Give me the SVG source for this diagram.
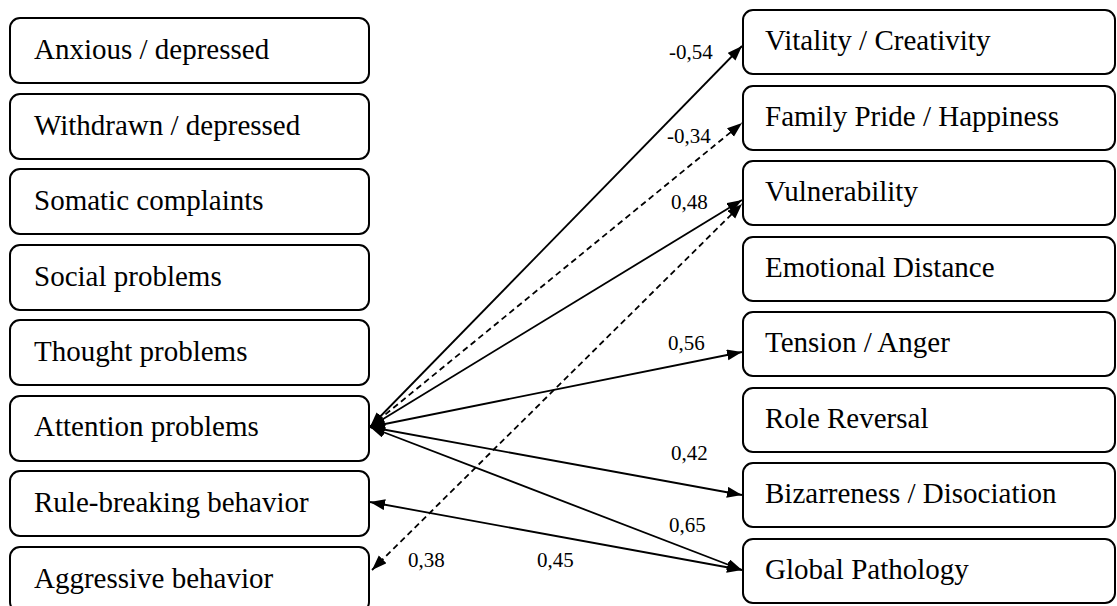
<svg xmlns="http://www.w3.org/2000/svg" width="1117" height="606" viewBox="0 0 1117 606">
<style>
.box{fill:#fff;stroke:#000;stroke-width:2}
.t{font-size:29px;fill:#000}
.lbl{font-size:21px;fill:#000}
.c{fill:none;stroke:#000;stroke-width:1.8;marker-start:url(#ah);marker-end:url(#ah)}
.d{stroke-dasharray:6 4}
</style>
<defs>
<marker id="ah" markerUnits="userSpaceOnUse" markerWidth="16" markerHeight="12" refX="15" refY="5.5" orient="auto-start-reverse" viewBox="0 0 16 12">
<path d="M0,0 L15,5.5 L0,11 z" fill="#000" stroke="none"/>
</marker>
</defs>
<rect width="1117" height="606" fill="#fff"/>
<g font-family="Liberation Serif, Tinos, Times New Roman, DejaVu Serif, serif">
<g id="left-anxious"><rect class="box" x="10" y="18" width="359" height="65" rx="10"/><text class="t" x="34" y="59">Anxious / depressed</text></g>
<g id="left-withdrawn"><rect class="box" x="10" y="94" width="359" height="65" rx="10"/><text class="t" x="34" y="135">Withdrawn / depressed</text></g>
<g id="left-somatic"><rect class="box" x="10" y="169" width="359" height="65" rx="10"/><text class="t" x="34" y="210">Somatic complaints</text></g>
<g id="left-social"><rect class="box" x="10" y="245" width="359" height="65" rx="10"/><text class="t" x="34" y="286">Social problems</text></g>
<g id="left-thought"><rect class="box" x="10" y="320" width="359" height="65" rx="10"/><text class="t" x="34" y="361">Thought problems</text></g>
<g id="left-attention"><rect class="box" x="10" y="396" width="359" height="65" rx="10"/><text class="t" x="34" y="436">Attention problems</text></g>
<g id="left-rule"><rect class="box" x="10" y="471" width="359" height="65" rx="10"/><text class="t" x="34" y="512">Rule-breaking behavior</text></g>
<g id="left-aggressive"><rect class="box" x="10" y="547" width="359" height="65" rx="10"/><text class="t" x="34" y="588">Aggressive behavior</text></g>
<g id="right-vitality"><rect class="box" x="743" y="10" width="372" height="64" rx="10"/><text class="t" x="765" y="50">Vitality / Creativity</text></g>
<g id="right-family"><rect class="box" x="743" y="86" width="372" height="64" rx="10"/><text class="t" x="765" y="126">Family Pride / Happiness</text></g>
<g id="right-vulnerability"><rect class="box" x="743" y="161" width="372" height="64" rx="10"/><text class="t" x="765" y="201">Vulnerability</text></g>
<g id="right-emotional"><rect class="box" x="743" y="237" width="372" height="64" rx="10"/><text class="t" x="765" y="277">Emotional Distance</text></g>
<g id="right-tension"><rect class="box" x="743" y="312" width="372" height="64" rx="10"/><text class="t" x="765" y="352">Tension / Anger</text></g>
<g id="right-role"><rect class="box" x="743" y="388" width="372" height="64" rx="10"/><text class="t" x="765" y="428">Role Reversal</text></g>
<g id="right-bizarreness"><rect class="box" x="743" y="463" width="372" height="64" rx="10"/><text class="t" x="765" y="503">Bizarreness / Disociation</text></g>
<g id="right-global"><rect class="box" x="743" y="539" width="372" height="64" rx="10"/><text class="t" x="765" y="579">Global Pathology</text></g>
<g id="connectors">
<line class="c" x1="370" y1="427" x2="742" y2="46"/>
<line class="c d" x1="370" y1="427" x2="742" y2="123"/>
<line class="c" x1="370" y1="427" x2="742" y2="200"/>
<line class="c d" x1="372" y1="570" x2="742" y2="204"/>
<line class="c" x1="370" y1="427" x2="742" y2="352"/>
<line class="c" x1="370" y1="427" x2="742" y2="495"/>
<line class="c" x1="370" y1="427" x2="742" y2="570"/>
<line class="c" x1="370" y1="502" x2="742" y2="570"/>
</g>
<g id="labels">
<text class="lbl" x="669" y="59">-0,54</text>
<text class="lbl" x="667" y="143">-0,34</text>
<text class="lbl" x="671" y="209">0,48</text>
<text class="lbl" x="668" y="350">0,56</text>
<text class="lbl" x="671" y="460">0,42</text>
<text class="lbl" x="669" y="532">0,65</text>
<text class="lbl" x="408" y="567">0,38</text>
<text class="lbl" x="537" y="567">0,45</text>
</g>
</g>
</svg>
